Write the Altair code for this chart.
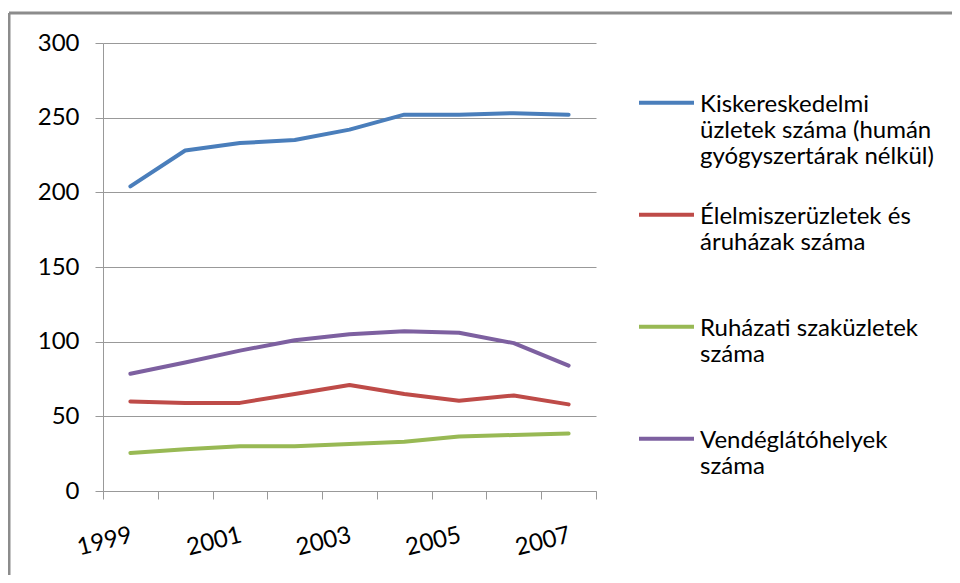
import altair as alt
import pandas as pd

years = ["1999", "2000", "2001", "2002", "2003", "2004", "2005", "2006", "2007"]
series_names = [
    "Kiskereskedelmi|üzletek  száma (humán|gyógyszertárak nélkül)",
    "Élelmiszerüzletek és|áruházak száma| ",
    "Ruházati szaküzletek|száma| ",
    "Vendéglátóhelyek|száma| ",
]
kisker = [204, 228, 233, 235, 242, 252, 252, 253, 252]
elelmiszer = [60, 59, 59, 65, 71, 65, 60.5, 64, 58]
ruhazati = [25.5, 28, 30, 30, 31.5, 33, 36.5, 37.5, 38.5]
vendeglato = [78.5, 86, 94, 101, 105, 107, 106, 99, 84]
colors = ["#4A7EBB", "#BE4B48", "#98B954", "#7D60A0"]

rows = []
for name, vals in zip(series_names, [kisker, elelmiszer, ruhazati, vendeglato]):
    for y, v in zip(years, vals):
        rows.append({"year": y, "value": v, "series": name})
df = pd.DataFrame(rows)

FONT = "Lato"
GREY = "#999999"

lines = (
    alt.Chart(df)
    .mark_line(strokeWidth=4, strokeCap="round", strokeJoin="round")
    .encode(
        x=alt.X(
            "year:O",
            title=None,
            sort=years,
            scale=alt.Scale(paddingInner=0, paddingOuter=0),
            axis=alt.Axis(
                labelExpr="toNumber(datum.value) % 2 == 1 ? datum.label : ''",
                labelAngle=-14,
                labelAlign="right",
                labelBaseline="top",
                labelPadding=24,
                labelOffset=-2,
                tickBand="extent",
                tickSize=8,
                tickColor=GREY,
                domainColor=GREY,
                labelFontSize=24,
                labelFont=FONT,
                labelColor="#000000",
                grid=False,
            ),
        ),
        y=alt.Y(
            "value:Q",
            title=None,
            scale=alt.Scale(domain=[0, 300]),
            axis=alt.Axis(
                values=[0, 50, 100, 150, 200, 250, 300],
                tickSize=8,
                tickColor=GREY,
                domainColor=GREY,
                gridColor=GREY,
                grid=True,
                labelPadding=16,
                labelFontSize=24,
                labelFont=FONT,
                labelColor="#000000",
            ),
        ),
        color=alt.Color(
            "series:N",
            sort=series_names,
            scale=alt.Scale(domain=series_names, range=colors),
            legend=alt.Legend(
                title=None,
                orient="none",
                legendX=534,
                legendY=20,
                symbolType="M-1,0.373L1,0.373",
                symbolStrokeWidth=4,
                symbolSize=3025,
                symbolFillColor="transparent",
                labelExpr="split(datum.label, '|')",
                labelLimit=400,
                labelFontSize=24,
                labelFont=FONT,
                labelColor="#000000",
                labelBaseline="top",
                labelOffset=4,
                rowPadding=6,
            ),
        ),
    )
)

frame_df = pd.DataFrame({"k": [0]})
frame_top = (
    alt.Chart(frame_df)
    .mark_rule(stroke="#8c8c8c", strokeWidth=3)
    .encode(x=alt.value(-94), x2=alt.value(900), y=alt.value(-30))
)
frame_left = (
    alt.Chart(frame_df)
    .mark_rule(stroke="#8c8c8c", strokeWidth=3)
    .encode(x=alt.value(-94), y=alt.value(-30), y2=alt.value(600))
)

chart = (
    alt.layer(frame_top, frame_left, lines)
    .properties(
        width=493,
        height=448,
        padding={"left": 95, "top": 35, "right": 356, "bottom": 84},
        autosize=alt.AutoSizeParams(type="none"),
    )
    .configure_view(stroke=None)
)

chart.save("out.html", embed_options={"renderer": "svg", "actions": False})
